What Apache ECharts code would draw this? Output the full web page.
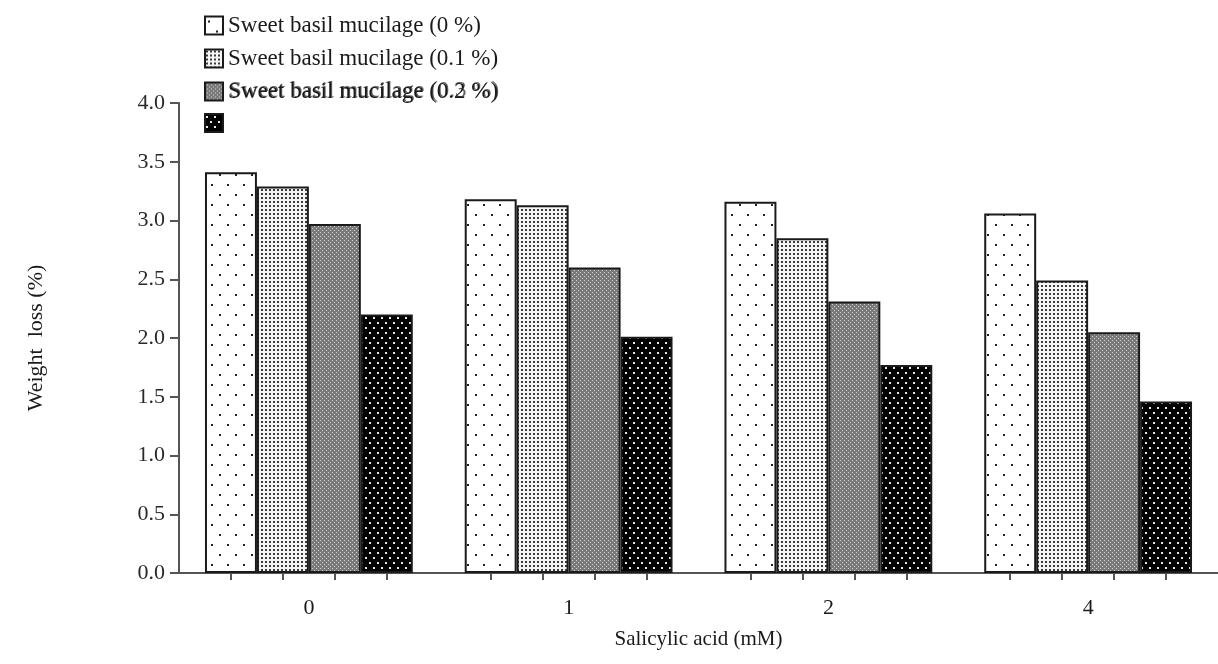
<!DOCTYPE html>
<html>
<head>
<meta charset="utf-8">
<script src="https://cdn.jsdelivr.net/npm/echarts@6/dist/echarts.min.js"></script>
<style>
  html, body { margin: 0; padding: 0; background: #fff; }
  #main { width: 1218px; height: 664px; }
</style>
</head>
<body>
<div id="main"></div>
<script>
// 数据
var categories = ['0', '1', '2', '4']
var seriesNames = [
  'Sweet basil mucilage (0 %)',
  'Sweet basil mucilage (0.1 %)',
  'Sweet basil mucilage (0.2 %)',
  'Sweet basil mucilage (0.3 %)'
]
var mucilage0 = [3.41, 3.18, 3.16, 3.06]
var mucilage01 = [3.29, 3.13, 2.85, 2.49]
var mucilage02 = [2.97, 2.60, 2.31, 2.05]
var mucilage03 = [2.20, 2.01, 1.77, 1.46]
var yTicks = [0, 0.5, 1.0, 1.5, 2.0, 2.5, 3.0, 3.5, 4.0]

var FONT = '"Liberation Serif", "DejaVu Serif", serif'

// 填充图案
function makePattern (w, h, bg, fg, dots, size) {
  var c = document.createElement('canvas')
  c.width = w
  c.height = h
  var ctx = c.getContext('2d')
  ctx.fillStyle = bg
  ctx.fillRect(0, 0, w, h)
  ctx.fillStyle = fg
  dots.forEach(function (d) {
    ctx.fillRect(d[0], d[1], size, size)
  })
  return { image: c, repeat: 'repeat' }
}

var patterns = [
  makePattern(16, 20, '#ffffff', '#222222', [[3, 4], [11, 14]], 2),
  makePattern(4, 4, '#f4f4f4', '#3a3a3a', [[1, 1]], 2),
  makePattern(4, 4, '#7a7a7a', '#d4d4d4', [[0, 0], [2, 2]], 1),
  makePattern(8, 10, '#000000', '#e8e8e8', [[1, 2], [5, 7]], 2)
]

var seriesData = [mucilage0, mucilage01, mucilage02, mucilage03]

// 每根柱子下方的刻度
var barTicks = []
categories.forEach(function (c, i) {
  for (var k = 1; k <= 4; k++) barTicks.push(i * 5 + k)
})

var option = {
  animation: false,
  backgroundColor: '#ffffff',
  textStyle: { fontFamily: FONT },
  legend: {
    orient: 'vertical',
    left: 199,
    top: 9,
    itemWidth: 18,
    itemHeight: 18,
    itemGap: 10,
    icon: 'rect',
    textStyle: { fontFamily: FONT, fontSize: 23, color: '#1a1a1a' },
    formatter: function (name) {
      return name === seriesNames[3] ? '' : name
    },
    data: seriesNames
  },
  graphic: [
    {
      type: 'text',
      left: 229,
      top: 79,
      silent: true,
      style: {
        text: seriesNames[3],
        font: '23px ' + FONT,
        fill: 'rgba(30,30,30,0.7)'
      }
    }
  ],
  grid: {
    left: 179,
    right: -5,
    top: 103,
    bottom: 91
  },
  xAxis: [
    {
      type: 'category',
      data: categories,
      name: 'Salicylic acid (mM)',
      nameLocation: 'middle',
      nameGap: 56,
      nameTextStyle: { fontFamily: FONT, fontSize: 21, color: '#1a1a1a' },
      axisLine: { lineStyle: { color: '#555', width: 2 } },
      axisTick: { show: false },
      axisLabel: { margin: 24, fontFamily: FONT, fontSize: 22, color: '#1a1a1a' },
      splitLine: { show: false }
    },
    {
      type: 'value',
      position: 'bottom',
      min: 0,
      max: categories.length * 5,
      axisLine: { show: false },
      axisLabel: { show: false },
      splitLine: { show: false },
      axisTick: {
        show: true,
        length: 7,
        customValues: barTicks,
        lineStyle: { color: '#555', width: 2 }
      }
    }
  ],
  yAxis: {
    type: 'value',
    min: 0,
    max: 4,
    interval: 0.5,
    name: 'Weight  loss (%)',
    nameLocation: 'middle',
    nameGap: 132,
    nameTextStyle: { fontFamily: FONT, fontSize: 22, color: '#1a1a1a' },
    axisLine: { show: true, lineStyle: { color: '#555', width: 2 } },
    axisTick: { show: true, length: 9, lineStyle: { color: '#555', width: 2 } },
    axisLabel: {
      margin: 14,
      fontFamily: FONT,
      fontSize: 22,
      color: '#2a2a2a',
      customValues: yTicks,
      formatter: function (v) { return v.toFixed(1) }
    },
    splitLine: { show: false }
  },
  series: seriesData.map(function (d, i) {
    return {
      name: seriesNames[i],
      type: 'bar',
      xAxisIndex: 0,
      barGap: '0%',
      barCategoryGap: '20%',
      itemStyle: {
        color: patterns[i],
        borderColor: '#1a1a1a',
        borderWidth: 2
      },
      data: d
    }
  })
}

echarts.init(document.getElementById('main'), null, { renderer: 'canvas' }).setOption(option)
</script>
</body>
</html>
